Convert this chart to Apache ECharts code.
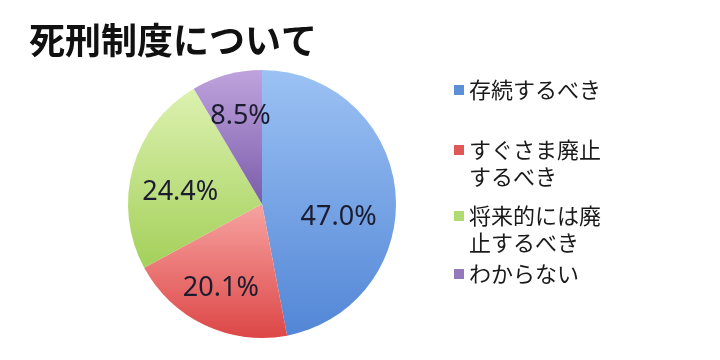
<!DOCTYPE html>
<html><head><meta charset="utf-8">
<script src="https://cdn.jsdelivr.net/npm/echarts@6/dist/echarts.min.js"></script>
<style>html,body{margin:0;padding:0;background:#fff}#c{width:720px;height:360px}</style>
</head><body><div id="c"></div>
<script>
const categories = ['存続するべき', 'すぐさま廃止するべき', '将来的には廃止するべき', 'わからない'];
const legendLines = [['存続するべき'], ['すぐさま廃止', 'するべき'], ['将来的には廃', '止するべき'], ['わからない']];
const values = [47.0, 20.1, 24.4, 8.5];
const titleText = '死刑制度について';

const topColors = ['#9cc2f4', '#f7a3a1', '#dcf1b0', '#bfa3dd'];
const bottomColors = ['#5286d6', '#dc4746', '#a4d05a', '#7a5caa'];
const legendColors = ['#5b8fd8', '#df5856', '#b0da72', '#9479bd'];
const legendTops = [74, 113, 179, 258];
const labelOffsets = [[-12, 22], [-3, 4], [4, 12], [2, -2]];

const chart = echarts.init(document.getElementById('c'));
const grad = i => ({type: 'linear', x: 0, y: 0, x2: 0, y2: 1,
  colorStops: [{offset: 0, color: topColors[i]}, {offset: 1, color: bottomColors[i]}]});

const legends = categories.map((name, i) => ({
  orient: 'vertical', left: 449, top: legendTops[i],
  itemWidth: 10, itemHeight: 10, icon: 'rect', selectedMode: false,
  data: [{name: name, itemStyle: {color: legendColors[i]}}],
  formatter: () => (legendLines[i].length > 1 ? '{s| }\n' : '') + legendLines[i].map(t => '{a|' + t + '}').join('\n'),
  textStyle: {rich: {
    a: {fontFamily: 'Noto Sans CJK JP', fontSize: 22, lineHeight: 27, color: '#1a1a1a'},
    s: {fontSize: 10, lineHeight: 27}
  }}
}));

chart.setOption({
  animation: false,
  title: {text: titleText, left: 24, top: 17,
    textStyle: {fontFamily: 'Noto Sans CJK JP', fontSize: 36, fontWeight: 'bold', color: '#111'}},
  legend: legends,
  series: [{
    type: 'pie', center: [262, 204], radius: [0, 134], startAngle: 90, clockwise: true,
    label: {show: false}, labelLine: {show: false}, emphasis: {disabled: true},
    data: categories.map((n, i) => ({name: n, value: values[i], itemStyle: {color: grad(i)}}))
  }, {
    type: 'pie', center: [262, 204], radius: [38, 134], startAngle: 90, clockwise: true,
    silent: true, emphasis: {disabled: true},
    itemStyle: {color: 'rgba(0,0,0,0)'},
    label: {show: true, position: 'inside', fontFamily: 'Noto Sans', fontSize: 27, color: '#1c1c30',
      formatter: p => p.value.toFixed(1) + '%'},
    labelLine: {show: false},
    data: categories.map((n, i) => ({name: n, value: values[i], label: {offset: labelOffsets[i]}}))
  }]
});
</script></body></html>
